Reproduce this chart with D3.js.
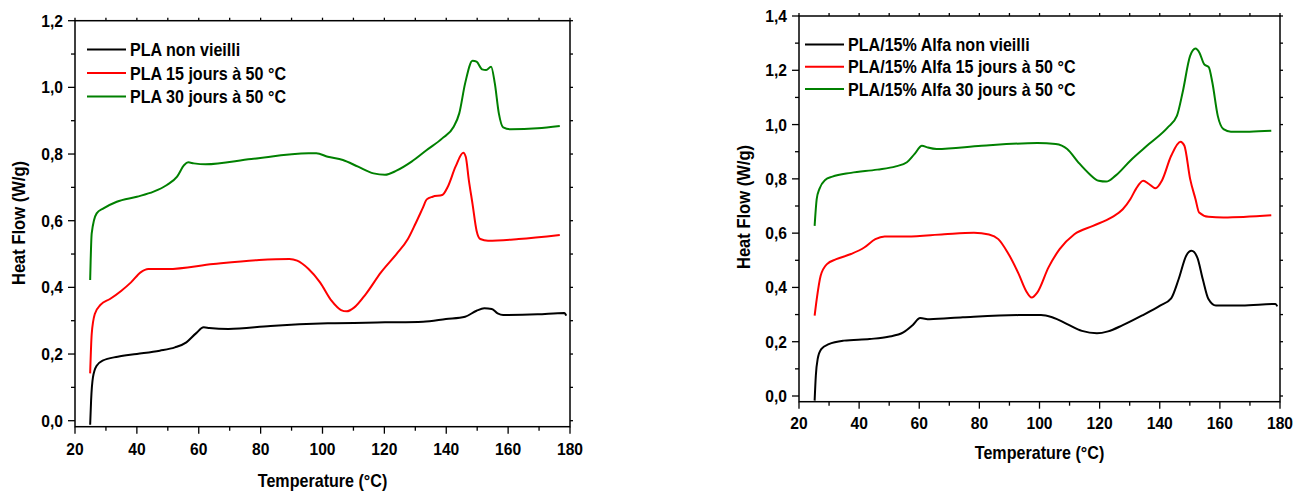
<!DOCTYPE html>
<html>
<head>
<meta charset="utf-8">
<script src="https://cdn.jsdelivr.net/npm/d3@7"></script>
<style>
  body { margin: 0; background: #fff; }
  text { font-family: "Liberation Sans", Arial, sans-serif; font-weight: bold; fill: #000; }
</style>
</head>
<body>
<svg id="chart" width="1304" height="491"></svg>
<script>
// Series data: [temperature (°C), heat flow (W/g)]
const plaNonVieilli = [
  [24.9, -0.012], [25.2, 0.06], [25.8, 0.13], [27, 0.165], [28.9, 0.18], [33.8, 0.192],
  [40, 0.2], [47.4, 0.21], [52.3, 0.22], [56, 0.235], [59.1, 0.262], [61.6, 0.28],
  [63.4, 0.278], [69.6, 0.275], [83.2, 0.284], [101.7, 0.292], [120.2, 0.295],
  [132.5, 0.297], [139.9, 0.305], [146.1, 0.312], [149.8, 0.33], [152.3, 0.337],
  [154.7, 0.335], [156.6, 0.322], [158.4, 0.317], [169.5, 0.319], [178.2, 0.323], [178.8, 0.315]
];
const pla15j = [
  [24.9, 0.142], [25.4, 0.26], [26.4, 0.32], [28.3, 0.348], [31.3, 0.365], [35, 0.39],
  [38.1, 0.415], [41.2, 0.445], [43.7, 0.455], [49.9, 0.455], [64.7, 0.47], [79.5, 0.482],
  [89.3, 0.485], [91.8, 0.48], [95.5, 0.455], [99.2, 0.415], [102.9, 0.36], [106, 0.332],
  [107.8, 0.328], [110.3, 0.34], [114, 0.38], [118.9, 0.445], [123.9, 0.5], [127.6, 0.545],
  [130, 0.59], [132.5, 0.64], [133.7, 0.664], [135.6, 0.672], [138.7, 0.677], [140.5, 0.702],
  [143, 0.762], [145.5, 0.804], [146.3, 0.792], [147.3, 0.722], [148.5, 0.65], [149.8, 0.57],
  [151, 0.545], [153.5, 0.54], [163.4, 0.545], [176.7, 0.557]
];
const pla30j = [
  [24.9, 0.422], [25.4, 0.562], [27, 0.622], [29.2, 0.637], [33.5, 0.657], [40, 0.672],
  [45.4, 0.687], [49.7, 0.707], [53, 0.732], [55.3, 0.767], [56.6, 0.775], [58.4, 0.772],
  [62.2, 0.769], [77, 0.785], [95.5, 0.802], [98, 0.802], [101.7, 0.792], [106.6, 0.782],
  [111.5, 0.762], [116.5, 0.742], [120.2, 0.738], [123.9, 0.75], [128.8, 0.777], [133.7, 0.812],
  [138.7, 0.847], [142.4, 0.882], [144.2, 0.922], [146.1, 1.012], [148.5, 1.08], [149.8, 1.077],
  [151.6, 1.054], [152.9, 1.052], [154.5, 1.062], [155.7, 1.012], [157, 0.922], [158.4, 0.88],
  [160.9, 0.874], [169.5, 0.877], [176.7, 0.884]
];

const alfaNonVieilli = [
  [25.2, -0.017], [25.6, 0.075], [26.2, 0.136], [27.4, 0.173], [29.9, 0.191], [34.9, 0.204],
  [43.5, 0.21], [49.7, 0.218], [54.7, 0.234], [57.8, 0.261], [60.3, 0.287], [63.4, 0.283],
  [74.5, 0.29], [93.1, 0.298], [100.5, 0.298], [104.2, 0.29], [109.2, 0.265], [114.1, 0.24],
  [119.1, 0.231], [122.8, 0.238], [127.7, 0.261], [134, 0.296], [140.1, 0.333], [143.8, 0.36],
  [146.3, 0.431], [148.8, 0.517], [150.6, 0.535], [152.5, 0.51], [154.3, 0.431], [156.2, 0.357],
  [158.7, 0.333], [167.3, 0.333], [178.5, 0.339], [179.1, 0.33]
];
const alfa15j = [
  [25.2, 0.296], [25.9, 0.357], [27.2, 0.443], [29.3, 0.486], [32.4, 0.504], [37.3, 0.523],
  [41.7, 0.547], [45.4, 0.578], [48.5, 0.588], [55.9, 0.588], [68.3, 0.596], [78.2, 0.601],
  [83.2, 0.595], [86.3, 0.578], [89.4, 0.529], [93.1, 0.449], [95.5, 0.388], [97.4, 0.363],
  [99.3, 0.382], [103, 0.474], [106.7, 0.541], [111.6, 0.596], [117.8, 0.627], [124, 0.658],
  [127.7, 0.688], [130.2, 0.725], [132.1, 0.763], [134.5, 0.793], [136.4, 0.781], [138.6, 0.765],
  [140.7, 0.793], [143.8, 0.885], [146.9, 0.937], [148.2, 0.922], [150.1, 0.8], [151.9, 0.725],
  [153.1, 0.676], [156.2, 0.66], [161.2, 0.658], [177.1, 0.666]
];
const alfa30j = [
  [25.2, 0.627], [25.9, 0.726], [26.8, 0.763], [28.7, 0.796], [31.1, 0.808], [37.3, 0.822],
  [46, 0.834], [52.2, 0.846], [55.9, 0.861], [58.4, 0.891], [60.9, 0.922], [62.7, 0.916],
  [65.8, 0.91], [80.7, 0.922], [99.3, 0.932], [105.4, 0.928], [109.2, 0.91], [112.9, 0.861],
  [116.6, 0.818], [119.7, 0.793], [122.2, 0.79], [125.3, 0.812], [130.2, 0.867], [136.4, 0.928],
  [142.6, 0.989], [145.7, 1.032], [147.6, 1.118], [150.1, 1.253], [151.9, 1.28], [153.2, 1.265],
  [154.8, 1.222], [156.3, 1.212], [157.5, 1.155], [159.3, 1.032], [161.2, 0.983], [163.7, 0.974],
  [169.9, 0.974], [177.1, 0.977]
];

const leftLabels = ["PLA non vieilli", "PLA 15 jours à 50 °C", "PLA 30 jours à 50 °C"];
const rightLabels = ["PLA/15% Alfa non vieilli", "PLA/15% Alfa 15 jours à 50 °C", "PLA/15% Alfa 30 jours à 50 °C"];
const colors = ["#000000", "#ff0000", "#008000"];
const xTicks = [20, 40, 60, 80, 100, 120, 140, 160, 180];
const xTitle = "Temperature (°C)";
const yTitle = "Heat Flow (W/g)";

const svg = d3.select("#chart");
const fmt = d => d3.format(".1f")(d).replace(".", ",");

// slightly condensed bold text, like the original export
function label(g, x, y, txt, size, anchor, rot) {
    const t = g.append("g")
        .attr("transform", `translate(${x},${y})` + (rot ? " rotate(-90)" : "") + " scale(0.92,1)");
    t.append("text")
        .attr("text-anchor", anchor)
        .attr("font-size", size)
        .text(txt);
}

function drawPanel(cfg) {
    const x = d3.scaleLinear().domain([20, 180]).range([cfg.left, cfg.right]);
    const y = d3.scaleLinear().domain([0, cfg.yMax]).range([cfg.zeroY, cfg.top]);
    const bottom = cfg.bottom;
    const g = svg.append("g");

    const yMajor = d3.range(0, cfg.yMax + 0.001, 0.2);
    const yMinor = d3.range(0.1, cfg.yMax, 0.2);
    const xMinor = d3.range(30, 180, 20);

    // frame
    g.append("rect")
        .attr("x", cfg.left).attr("y", cfg.top)
        .attr("width", cfg.right - cfg.left).attr("height", bottom - cfg.top)
        .attr("fill", "none").attr("stroke", "#000").attr("stroke-width", 1.5);

    // left ticks + labels
    g.selectAll(".ly").data(yMajor).enter().append("line")
        .attr("x1", cfg.left - 7).attr("x2", cfg.left)
        .attr("y1", d => y(d)).attr("y2", d => y(d))
        .attr("stroke", "#000").attr("stroke-width", 1.3);
    g.selectAll(".lym").data(yMinor).enter().append("line")
        .attr("x1", cfg.left - 4).attr("x2", cfg.left)
        .attr("y1", d => y(d)).attr("y2", d => y(d))
        .attr("stroke", "#000").attr("stroke-width", 1.3);
    yMajor.forEach(d => label(g, cfg.left - 12, y(d) + 6, fmt(d), 17, "end"));

    // right mirror ticks
    g.selectAll(".ry").data(yMajor.concat(yMinor)).enter().append("line")
        .attr("x1", cfg.right).attr("x2", cfg.right + 3)
        .attr("y1", d => y(d)).attr("y2", d => y(d))
        .attr("stroke", "#000").attr("stroke-width", 1.3);

    // bottom ticks + labels
    g.selectAll(".bx").data(xTicks).enter().append("line")
        .attr("x1", d => x(d)).attr("x2", d => x(d))
        .attr("y1", bottom).attr("y2", bottom + 7)
        .attr("stroke", "#000").attr("stroke-width", 1.3);
    g.selectAll(".bxm").data(xMinor).enter().append("line")
        .attr("x1", d => x(d)).attr("x2", d => x(d))
        .attr("y1", bottom).attr("y2", bottom + 4)
        .attr("stroke", "#000").attr("stroke-width", 1.3);
    xTicks.forEach(d => label(g, x(d), bottom + cfg.xLabelDy, d, 17, "middle"));

    // top mirror ticks
    g.selectAll(".tx").data(xTicks.concat(xMinor)).enter().append("line")
        .attr("x1", d => x(d)).attr("x2", d => x(d))
        .attr("y1", cfg.top).attr("y2", cfg.top - 3)
        .attr("stroke", "#000").attr("stroke-width", 1.3);

    // titles
    label(g, (cfg.left + cfg.right) / 2, cfg.xTitleY, xTitle, 17.5, "middle");
    label(g, cfg.yTitleX, cfg.yTitleY, yTitle, 18, "middle", true);

    // curves
    const line = d3.line()
        .x(d => x(d[0])).y(d => y(d[1]))
        .curve(d3.curveMonotoneX);
    cfg.series.forEach((s, i) => {
        g.append("path")
            .datum(s)
            .attr("d", line)
            .attr("fill", "none")
            .attr("stroke", colors[i])
            .attr("stroke-width", 2);
    });

    // legend
    cfg.labels.forEach((lab, i) => {
        const ly = cfg.legendY + i * cfg.legendStep;
        g.append("line")
            .attr("x1", cfg.legendX).attr("x2", cfg.legendX + 39)
            .attr("y1", ly).attr("y2", ly)
            .attr("stroke", colors[i]).attr("stroke-width", 2);
        label(g, cfg.legendX + 43, ly + 6.5, lab, 17.5, "start");
    });
}

drawPanel({
    left: 75, right: 570, top: 20.7, zeroY: 420.7, bottom: 426.7, yMax: 1.2,
    xLabelDy: 28, xTitleY: 487, yTitleX: 25, yTitleY: 223,
    legendX: 87, legendY: 49.5, legendStep: 23.5,
    labels: leftLabels, series: [plaNonVieilli, pla15j, pla30j]
});

drawPanel({
    left: 799, right: 1280, top: 16, zeroY: 396, bottom: 401.7, yMax: 1.4,
    xLabelDy: 27, xTitleY: 459, yTitleX: 750, yTitleY: 207,
    legendX: 805, legendY: 44.5, legendStep: 22.3,
    labels: rightLabels, series: [alfaNonVieilli, alfa15j, alfa30j]
});
</script>
</body>
</html>
